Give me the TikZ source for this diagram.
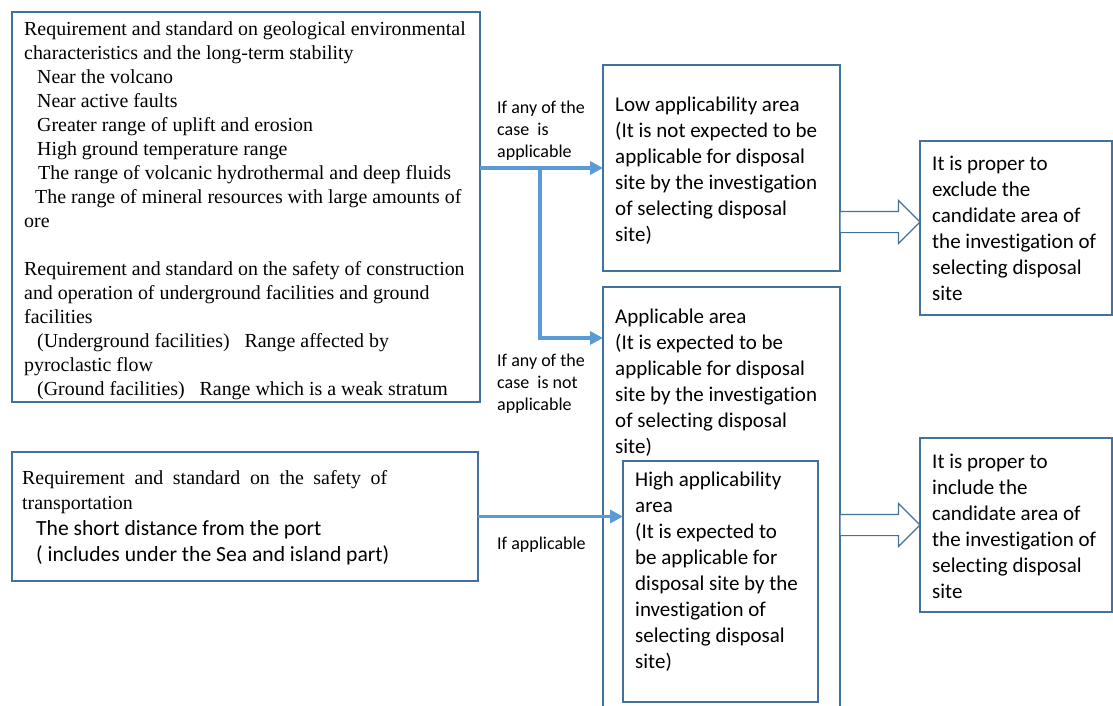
\documentclass[tikz,border=0pt]{standalone}
\usepackage{fontspec}
\setmainfont{Liberation Serif}
\newfontfamily\calibri{Carlito}[Ligatures=NoCommon]
\usetikzlibrary{arrows.meta,shapes.arrows}
\definecolor{boxline}{RGB}{65,113,156}
\definecolor{flowblue}{RGB}{91,155,213}
\newcommand\sansline{\calibri\fontsize{21.6}{25.7}\selectfont}
\tikzset{
  box/.style={draw=boxline, line width=1.1pt, anchor=north west, inner sep=0pt, outer sep=0pt},
  serifbody/.style={font=\fontsize{19.9}{24}\selectfont, align=left, inner sep=0pt},
  sansbody/.style={font=\calibri\fontsize{21}{26}\selectfont, align=left, inner sep=0pt},
  cond/.style={font=\calibri\fontsize{18}{22}\selectfont, align=left, anchor=north west, inner sep=0pt},
  flow/.style={draw=flowblue, line width=3.5pt, -{Triangle[length=13pt,width=13pt]}},
  hollow/.style={single arrow, draw=boxline, line width=1.1pt, fill=white, minimum height=80pt,
    single arrow head extend=11pt, inner sep=10pt, outer sep=0pt, anchor=tail}
}
\begin{document}
\begin{tikzpicture}[x=1pt, y=-1pt]
  \clip (0,0) rectangle (1113,706);
  \fill[white] (0,0) rectangle (1113,706);

  \node[box, minimum width=468pt, minimum height=390pt] (geo) at (12,12) {};
  \node[serifbody, anchor=west] (geotext) at ([shift={(12pt,-4pt)}]geo.west) {%
    Requirement and standard on geological environmental\\
    characteristics and the long-term stability\\
    \hspace*{13pt}Near the volcano\\
    \hspace*{13pt}Near active faults\\
    \hspace*{13pt}Greater range of uplift and erosion\\
    \hspace*{13pt}High ground temperature range\\
    \hspace*{14pt}The range of volcanic hydrothermal and deep fluids\\
    \hspace*{11pt}The range of mineral resources with large amounts of\\
    ore\\[24pt]
    Requirement and standard on the safety of construction\\
    and operation of underground facilities and ground\\
    facilities\\
    \hspace*{13pt}(Underground facilities)\ \ \ Range affected by\\
    pyroclastic flow\\
    \hspace*{13pt}(Ground facilities)\ \ \ Range which is a weak stratum};

  \node[box, minimum width=466pt, minimum height=129pt] (trans) at (12,452) {};
  \node[serifbody, font=\fontsize{19.9}{25.7}\selectfont, anchor=west] (transtext)
    at ([shift={(10pt,-1pt)}]trans.west) {%
    \makebox[365pt][s]{Requirement and standard on the safety of}\\
    transportation\\
    {\sansline\hspace*{14pt}The short distance from the port}\\
    {\sansline\hspace*{14pt}( includes under the Sea and island part)}};

  \node[box, minimum width=237pt, minimum height=206pt] (low) at (603,65) {};
  \node[sansbody, anchor=west] (lowtext) at ([shift={(12pt,-3pt)}]low.west) {%
    Low applicability area\\
    (It is not expected to be\\
    applicable for disposal\\
    site by the investigation\\
    of selecting disposal\\
    site)};

  \node[box, minimum width=237pt, minimum height=430pt] (appl) at (603,287) {};
  \node[sansbody, anchor=north west] (appltext)
    at ([shift={(12pt,-22pt)}]appl.north west) {%
    Applicable area\\
    (It is expected to be\\
    applicable for disposal\\
    site by the investigation\\
    of selecting disposal\\
    site)};

  \node[box, minimum width=195pt, minimum height=241pt] (high) at (623,461) {};
  \node[sansbody, anchor=north west] (hightext)
    at ([shift={(12pt,-11pt)}]high.north west) {%
    High applicability\\
    area\\
    (It is expected to\\
    be applicable for\\
    disposal site by the\\
    investigation of\\
    selecting disposal\\
    site)};

  \node[box, minimum width=192pt, minimum height=174pt] (excl) at (920,141) {};
  \node[sansbody, anchor=west] (excltext) at ([xshift=12pt]excl.west) {%
    It is proper to\\
    exclude the\\
    candidate area of\\
    the investigation of\\
    selecting disposal\\
    site};

  \node[box, minimum width=192pt, minimum height=174pt] (incl) at (920,438) {};
  \node[sansbody, anchor=west] (incltext) at ([shift={(12pt,-1pt)}]incl.west) {%
    It is proper to\\
    include the\\
    candidate area of\\
    the investigation of\\
    selecting disposal\\
    site};

  \node[cond] (yes) at (497,101) {If any of the\\ case\ \ is\\ applicable};
  \node[cond] (no) at (497,354) {If any of the\\ case\ \ is not\\ applicable};
  \node[cond] (port) at (497,537) {If applicable};

  \coordinate (fork) at (540,168);
  \coordinate (applin) at ([yshift=-51pt]appl.north west);
  \draw[flow] (geo.east |- low.west) -- (low.west);
  \draw[flow] (fork) |- (applin);
  \draw[flow] (trans.east) -- (high.west |- trans.east);

  \node[hollow] (out) at ([yshift=-54pt]low.east) {};
  \node[hollow] (in) at (appl.east |- incl.west) {};
\end{tikzpicture}
\end{document}
